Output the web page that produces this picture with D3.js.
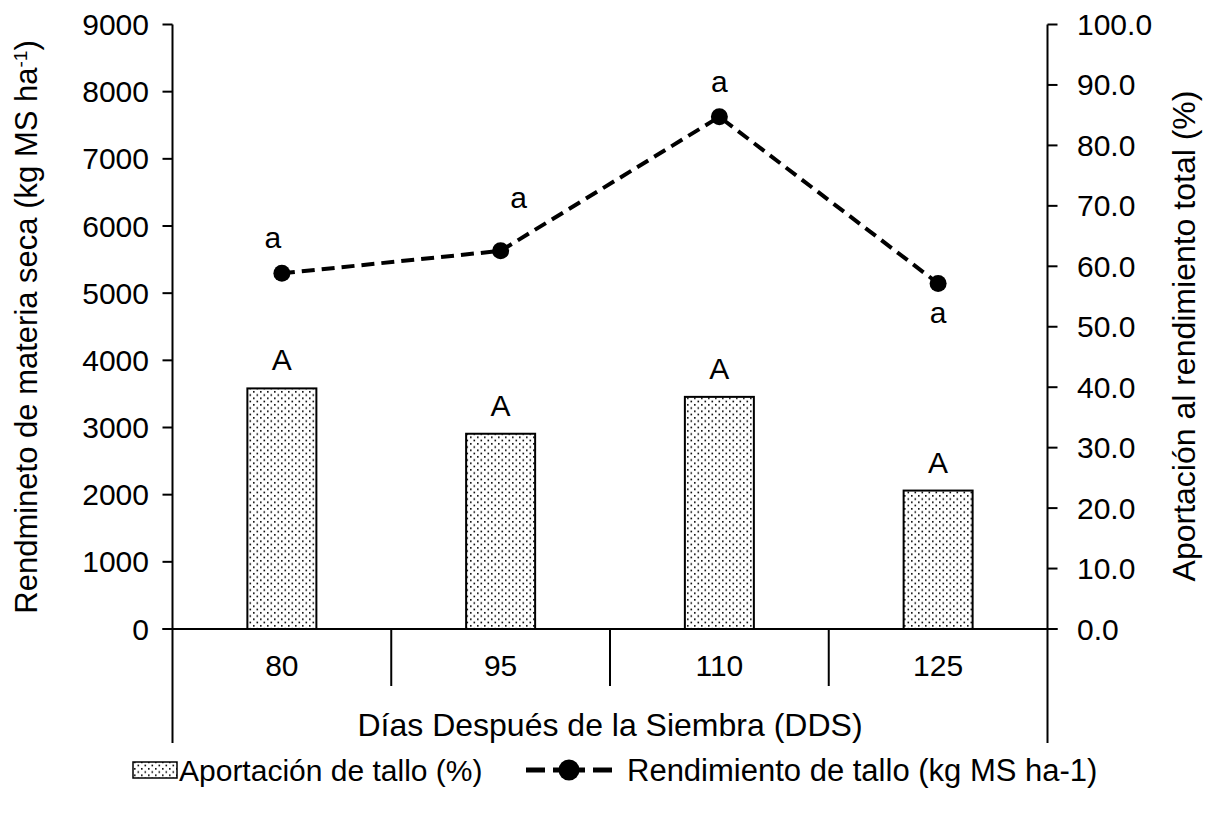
<!DOCTYPE html>
<html lang="es">
  <head>
    <meta charset="utf-8">
    <title>Rendimiento de tallo</title>
    <script src="https://d3js.org/d3.v7.min.js"></script>
    <style>
      html, body { margin: 0; padding: 0; background: #fff; }
      svg { display: block; font-family: "Liberation Sans", Arial, sans-serif; }
      text { fill: #000; }
    </style>
  </head>
  <body>
    <svg id="chart" width="1207" height="815"></svg>
    <script>
      // data
      const dias = ['80', '95', '110', '125'];
      const aportacion = [39.8, 32.3, 38.4, 22.9];        // % (right axis)
      const rendimiento = [5295, 5630, 7625, 5145];      // kg MS ha-1 (left axis)
      const letrasBarra = ['A', 'A', 'A', 'A'];
      const letrasLinea = ['a', 'a', 'a', 'a'];
      const leftTicks = [0, 1000, 2000, 3000, 4000, 5000, 6000, 7000, 8000, 9000];
      const rightTicks = [0, 10, 20, 30, 40, 50, 60, 70, 80, 90, 100];

      // label nudges for the lower-case letters (dx, dy from point)
      const lineLabelOffsets = [[-9, -25], [18, -43], [0, -25], [0, 40]];

      const margin = { left: 172.5, right: 1047.5, top: 24.5, bottom: 629 };
      const FS = 30;      // tick / letter size
      const FT = 32;      // axis titles
      const FL = 31;      // legend
      const svg = d3.select('#chart');

      const x = d3.scaleBand().domain(dias).range([margin.left, margin.right]);
      const yL = d3.scaleLinear().domain([0, 9000]).range([margin.bottom, margin.top]);
      const yR = d3.scaleLinear().domain([0, 100]).range([margin.bottom, margin.top]);

      const defs = svg.append('defs');
      const pat = defs.append('pattern')
        .attr('id', 'dots')
        .attr('patternUnits', 'userSpaceOnUse')
        .attr('width', 7).attr('height', 6.5);
      pat.append('rect').attr('width', 7).attr('height', 6.5).attr('fill', '#fff');
      pat.append('rect').attr('x', 1).attr('y', 1).attr('width', 1.6).attr('height', 1.6).attr('fill', '#000');
      pat.append('rect').attr('x', 4.5).attr('y', 4.25).attr('width', 1.6).attr('height', 1.6).attr('fill', '#000');

      // bars
      const barW = 69;
      svg.append('g').selectAll('rect')
        .data(aportacion)
        .enter().append('rect')
          .attr('x', (d, i) => x(dias[i]) + x.bandwidth() / 2 - barW / 2)
          .attr('y', d => yR(d))
          .attr('width', barW)
          .attr('height', d => yR(0) - yR(d))
          .attr('fill', 'url(#dots)')
          .attr('stroke', '#000')
          .attr('stroke-width', 2);

      svg.append('g').selectAll('text')
        .data(aportacion)
        .enter().append('text')
          .attr('x', (d, i) => x(dias[i]) + x.bandwidth() / 2)
          .attr('y', d => yR(d) - 18)
          .attr('text-anchor', 'middle')
          .attr('font-size', FS)
          .text((d, i) => letrasBarra[i]);

      // axes
      const axisG = svg.append('g').attr('stroke', '#000').attr('stroke-width', 2);
      // left axis
      axisG.append('line')
        .attr('x1', margin.left).attr('x2', margin.left)
        .attr('y1', yL(9000)).attr('y2', 743);
      axisG.selectAll('.lt').data(leftTicks).enter().append('line')
        .attr('x1', margin.left - 10).attr('x2', margin.left)
        .attr('y1', d => yL(d)).attr('y2', d => yL(d));
      svg.append('g').selectAll('text').data(leftTicks).enter().append('text')
        .attr('x', 149).attr('y', d => yL(d) + 10.5)
        .attr('text-anchor', 'end').attr('font-size', FS)
        .text(d => d);

      // right axis
      axisG.append('line')
        .attr('x1', margin.right).attr('x2', margin.right)
        .attr('y1', yR(100)).attr('y2', 743);
      axisG.selectAll('.rt').data(rightTicks).enter().append('line')
        .attr('x1', margin.right).attr('x2', margin.right + 10)
        .attr('y1', d => yR(d)).attr('y2', d => yR(d));
      svg.append('g').selectAll('text').data(rightTicks).enter().append('text')
        .attr('x', 1077).attr('y', d => yR(d) + 10.5)
        .attr('font-size', FS)
        .text(d => d3.format('.1f')(d));

      // x axis baseline and dividers
      axisG.append('line')
        .attr('x1', margin.left - 10).attr('x2', margin.right + 10)
        .attr('y1', yL(0)).attr('y2', yL(0));
      axisG.selectAll('.dv').data(dias.slice(1)).enter().append('line')
        .attr('x1', d => x(d)).attr('x2', d => x(d))
        .attr('y1', yL(0)).attr('y2', 686);
      svg.append('g').selectAll('text').data(dias).enter().append('text')
        .attr('x', d => x(d) + x.bandwidth() / 2).attr('y', 676)
        .attr('text-anchor', 'middle').attr('font-size', FS)
        .text(d => d);

      svg.append('text')
        .attr('x', (margin.left + margin.right) / 2).attr('y', 736)
        .attr('text-anchor', 'middle').attr('font-size', FT)
        .text('Días Después de la Siembra (DDS)');

      // axis titles
      const lt = svg.append('text')
        .attr('transform', 'translate(37,327) rotate(-90)')
        .attr('text-anchor', 'middle').attr('font-size', 31);
      lt.append('tspan').text('Rendmineto de materia seca (kg MS ha');
      lt.append('tspan').attr('baseline-shift', 'super').attr('font-size', 19).text('-1');
      lt.append('tspan').text(')');

      svg.append('text')
        .attr('transform', 'translate(1195,336) rotate(-90)')
        .attr('text-anchor', 'middle').attr('font-size', FT)
        .text('Aportación al rendimiento total (%)');

      // line
      const pts = rendimiento.map((v, i) => [x(dias[i]) + x.bandwidth() / 2, yL(v)]);
      svg.append('path')
        .attr('d', d3.line()(pts))
        .attr('fill', 'none')
        .attr('stroke', '#000')
        .attr('stroke-width', 4)
        .attr('stroke-dasharray', '13,7');
      svg.append('g').selectAll('circle').data(pts).enter().append('circle')
        .attr('cx', d => d[0]).attr('cy', d => d[1]).attr('r', 8.5)
        .attr('fill', '#000');
      svg.append('g').selectAll('text').data(pts).enter().append('text')
        .attr('x', (d, i) => d[0] + lineLabelOffsets[i][0])
        .attr('y', (d, i) => d[1] + lineLabelOffsets[i][1])
        .attr('text-anchor', 'middle').attr('font-size', FS)
        .text((d, i) => letrasLinea[i]);

      // legend
      const lg = svg.append('g');
      lg.append('rect')
        .attr('x', 133).attr('y', 762).attr('width', 44).attr('height', 16)
        .attr('fill', 'url(#dots)').attr('stroke', '#000').attr('stroke-width', 1.5);
      lg.append('text').attr('x', 179).attr('y', 781).attr('font-size', 30)
        .text('Aportación de tallo (%)');
      lg.selectAll('.ld').data([[526, 545], [553, 585], [593, 612]]).enter().append('line')
        .attr('x1', d => d[0]).attr('x2', d => d[1]).attr('y1', 770).attr('y2', 770)
        .attr('stroke', '#000').attr('stroke-width', 5);
      lg.append('circle').attr('cx', 569).attr('cy', 770).attr('r', 10.5).attr('fill', '#000');
      lg.append('text').attr('x', 627).attr('y', 781).attr('font-size', FL)
        .text('Rendimiento de tallo (kg MS ha-1)');
    </script>
  </body>
</html>
